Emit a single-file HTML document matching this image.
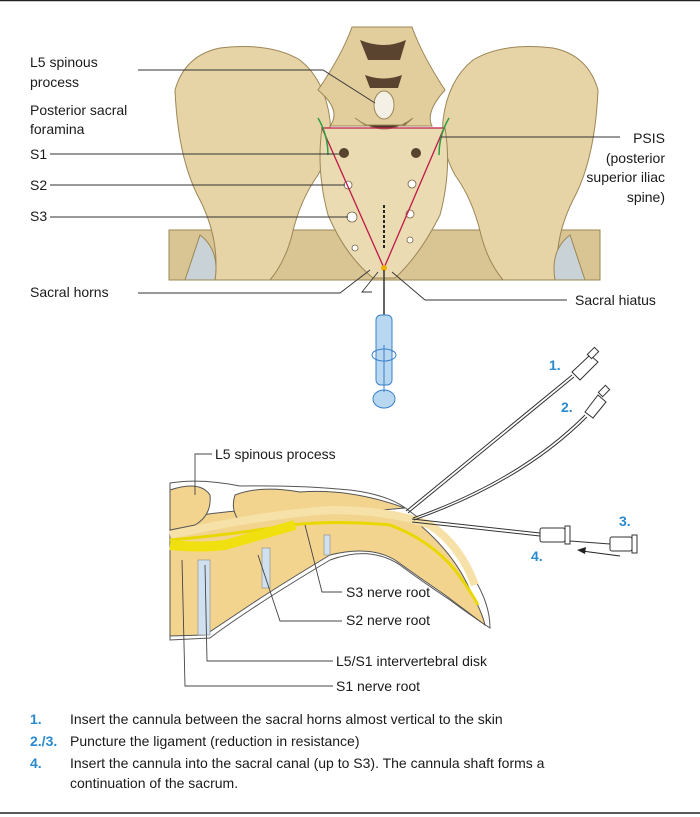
<!DOCTYPE html>
<html><head><meta charset="utf-8"><style>
html,body{margin:0;padding:0;background:#fff;}
body{width:700px;height:817px;position:relative;overflow:hidden;font-family:"Liberation Sans",sans-serif;}
svg{position:absolute;left:0;top:0;}
text{font-family:"Liberation Sans",sans-serif;font-size:14px;fill:#1a1a1a;}
.b{fill:#2a8ad0;font-weight:bold;}
</style></head><body>
<svg width="700" height="817" viewBox="0 0 700 817">
<line x1="0" y1="0.5" x2="700" y2="0.5" stroke="#222" stroke-width="1.5"/>
<line x1="0" y1="813" x2="700" y2="813" stroke="#222" stroke-width="1.5"/>
<!-- pelvis -->
<g stroke="#9c8656" stroke-width="1" fill="#e6d3a6">
<rect x="169" y="230" width="431" height="50" fill="#d9c593"/>
<path d="M175 90 Q185 55 220 48 Q270 42 300 60 Q325 80 330 120 Q332 150 318 175 Q300 200 292 235 Q285 262 270 280 L215 280 Q220 240 200 200 Q178 160 175 90Z"/>
<path d="M598 90 Q588 55 553 48 Q503 42 473 60 Q448 80 443 120 Q441 150 455 175 Q473 200 481 235 Q488 262 503 280 L558 280 Q553 240 573 200 Q595 160 598 90Z"/>
<path d="M322 128 L445 128 Q452 170 440 215 Q420 255 395 278 L373 278 Q345 255 328 215 Q316 170 322 128Z" fill="#eadbb2"/>
<path d="M352 27 L412 27 Q422 55 445 90 Q425 112 432 126 L330 126 Q342 110 318 90 Q342 55 352 27Z" fill="#e2cd9c"/>
<ellipse cx="384" cy="105" rx="10" ry="14" fill="#f5f0e6"/>
<path d="M355 118 Q384 140 413 118 L405 125 L365 125Z" fill="#4a3a28"/>
<path d="M200 235 Q220 250 215 280 L185 280Z" fill="#c9d2d6"/>
<path d="M570 235 Q550 250 555 280 L585 280Z" fill="#c9d2d6"/>
</g>
<g fill="#5a4430"><circle cx="344" cy="153" r="5"/><circle cx="416" cy="153" r="5"/><path d="M360 40 Q384 50 406 40 L400 60 L368 60Z"/><path d="M365 75 Q384 82 402 75 L398 88 L370 88Z"/></g>
<g fill="#fff" stroke="#7a6444" stroke-width="0.8"><circle cx="348" cy="185" r="4"/><circle cx="412" cy="184" r="4"/><circle cx="352" cy="217" r="5"/><circle cx="410" cy="214" r="4"/><circle cx="355" cy="248" r="3"/><circle cx="410" cy="240" r="3"/></g>
<line x1="384" y1="205" x2="384" y2="250" stroke="#222" stroke-width="2" stroke-dasharray="3,2"/>
<path d="M322 128 L444 128 L384 268 Z" fill="none" stroke="#c01848" stroke-width="1.3"/>
<path d="M318 118 Q328 135 328 155" fill="none" stroke="#2aa040" stroke-width="1.5"/>
<path d="M449 118 Q439 135 439 155" fill="none" stroke="#2aa040" stroke-width="1.5"/>
<circle cx="384" cy="268" r="3" fill="#f0b000"/>
<!-- leaders top -->
<g stroke="#333" stroke-width="0.9" fill="none">
<polyline points="138,70 323,70 375,103"/>
<line x1="50" y1="154" x2="340" y2="154"/>
<line x1="50" y1="185" x2="345" y2="185"/>
<line x1="50" y1="217" x2="348" y2="217"/>
<polyline points="138,293 340,293 370,270"/>
<polyline points="441,137 620,137"/>
<polyline points="372,292 362,292 378,272"/>
<polyline points="425,300 567,300"/>
<line x1="425" y1="300" x2="392" y2="272"/>
</g>
<!-- syringe -->
<line x1="384" y1="270" x2="384" y2="315" stroke="#333" stroke-width="1.5"/>
<g stroke="#3a80c8" stroke-width="1" fill="#b8d8f2">
<rect x="376" y="315" width="16" height="70" rx="5"/>
<ellipse cx="384" cy="355" rx="12" ry="6" fill="none"/>
<ellipse cx="384" cy="399" rx="11" ry="9"/>
<line x1="384" y1="345" x2="384" y2="392"/>
</g>
<!-- lower diagram -->
<g stroke="#555" stroke-width="1">
<path d="M170 483 Q200 478 240 486 Q300 485 350 490 Q390 495 408 510 Q450 540 475 580 Q490 605 490 628 Q470 615 450 600 Q420 580 400 565 Q370 545 330 560 Q280 590 250 610 Q220 630 210 638 L170 640Z" fill="#fff"/>
<path d="M170 520 Q250 505 330 510 Q390 512 420 525 Q455 555 470 590 Q482 612 485 625 Q465 610 445 595 Q420 578 395 560 Q370 545 330 555 Q280 585 250 605 Q220 625 205 635 L170 636Z" fill="#f2d48f"/>
<path d="M170 490 Q200 480 210 495 Q212 515 195 525 L170 530Z" fill="#f2d48f"/>
<path d="M235 495 Q260 485 300 492 Q350 488 405 508 L360 512 Q300 512 240 522 Q230 510 235 495Z" fill="#f2d48f"/>
</g>
<path d="M170 535 Q260 515 330 510 Q390 510 430 525 Q460 545 475 585" fill="none" stroke="#f6e2a8" stroke-width="8"/>
<path d="M170 540 Q230 535 290 525 Q340 520 390 525 Q430 540 455 570 Q470 590 478 605" fill="none" stroke="#e8d800" stroke-width="3"/>
<path d="M170 545 Q200 548 225 545 L295 525" fill="none" stroke="#f0e010" stroke-width="10"/>
<g fill="#cfe0f0" stroke="#888" stroke-width="0.6">
<rect x="198" y="560" width="12" height="75"/>
<rect x="262" y="548" width="8" height="40"/>
<rect x="324" y="535" width="6" height="20"/>
</g>
<!-- needles -->
<g stroke="#333" stroke-width="1" fill="#fff">
<line x1="406" y1="511" x2="572" y2="375"/><line x1="408" y1="513" x2="574" y2="377"/>
<path d="M413 518 Q520 480 585 415" fill="none"/><path d="M414 520 Q522 482 587 417" fill="none"/>
<line x1="412" y1="519" x2="540" y2="533"/><line x1="412" y1="522" x2="540" y2="536"/>
<line x1="570" y1="541" x2="610" y2="544"/>
<path d="M572 372 L590 355 L598 362 L580 380Z"/><rect x="590" y="348" width="6" height="10" transform="rotate(45 593 353)"/>
<path d="M585 412 L598 395 L606 402 L593 418Z"/><rect x="601" y="386" width="6" height="10" transform="rotate(45 604 391)"/>
<rect x="540" y="528" width="25" height="14" rx="2"/><rect x="565" y="526" width="5" height="18"/>
<rect x="610" y="537" width="22" height="14" rx="2"/><rect x="632" y="535" width="5" height="18"/>
</g>
<line x1="620" y1="556" x2="582" y2="551" stroke="#222" stroke-width="1"/>
<path d="M577 550 L586 547 L585 554Z" fill="#222"/>
<!-- lower leaders -->
<g stroke="#444" stroke-width="0.9" fill="none">
<polyline points="212,454 195,454 195,495"/>
<polyline points="342,592 322,592 305,525"/>
<polyline points="342,621 280,621 258,555"/>
<polyline points="333,661 207,661 205,565"/>
<polyline points="333,686 185,686 182,560"/>
</g>
<!-- text -->
<text x="30" y="67">L5 spinous</text><text x="30" y="87">process</text>
<text x="30" y="115">Posterior sacral</text><text x="30" y="134">foramina</text>
<text x="30" y="159">S1</text><text x="30" y="190">S2</text><text x="30" y="221">S3</text>
<text x="30" y="297">Sacral horns</text>
<text x="665" y="143" text-anchor="end">PSIS</text>
<text x="665" y="163" text-anchor="end">(posterior</text>
<text x="665" y="182" text-anchor="end">superior iliac</text>
<text x="665" y="202" text-anchor="end">spine)</text>
<text x="575" y="305">Sacral hiatus</text>
<text class="b" x="549" y="370">1.</text><text class="b" x="561" y="412">2.</text>
<text class="b" x="619" y="526">3.</text><text class="b" x="531" y="561">4.</text>
<text x="215" y="459">L5 spinous process</text>
<text x="346" y="597">S3 nerve root</text>
<text x="346" y="625">S2 nerve root</text>
<text x="336" y="666">L5/S1 intervertebral disk</text>
<text x="336" y="691">S1 nerve root</text>
<text class="b" x="30" y="724">1.</text><text x="70" y="724">Insert the cannula between the sacral horns almost vertical to the skin</text>
<text class="b" x="30" y="746">2./3.</text><text x="70" y="746">Puncture the ligament (reduction in resistance)</text>
<text class="b" x="30" y="768">4.</text><text x="70" y="768">Insert the cannula into the sacral canal (up to S3). The cannula shaft forms a</text>
<text x="70" y="788">continuation of the sacrum.</text>
</svg>
</body></html>
